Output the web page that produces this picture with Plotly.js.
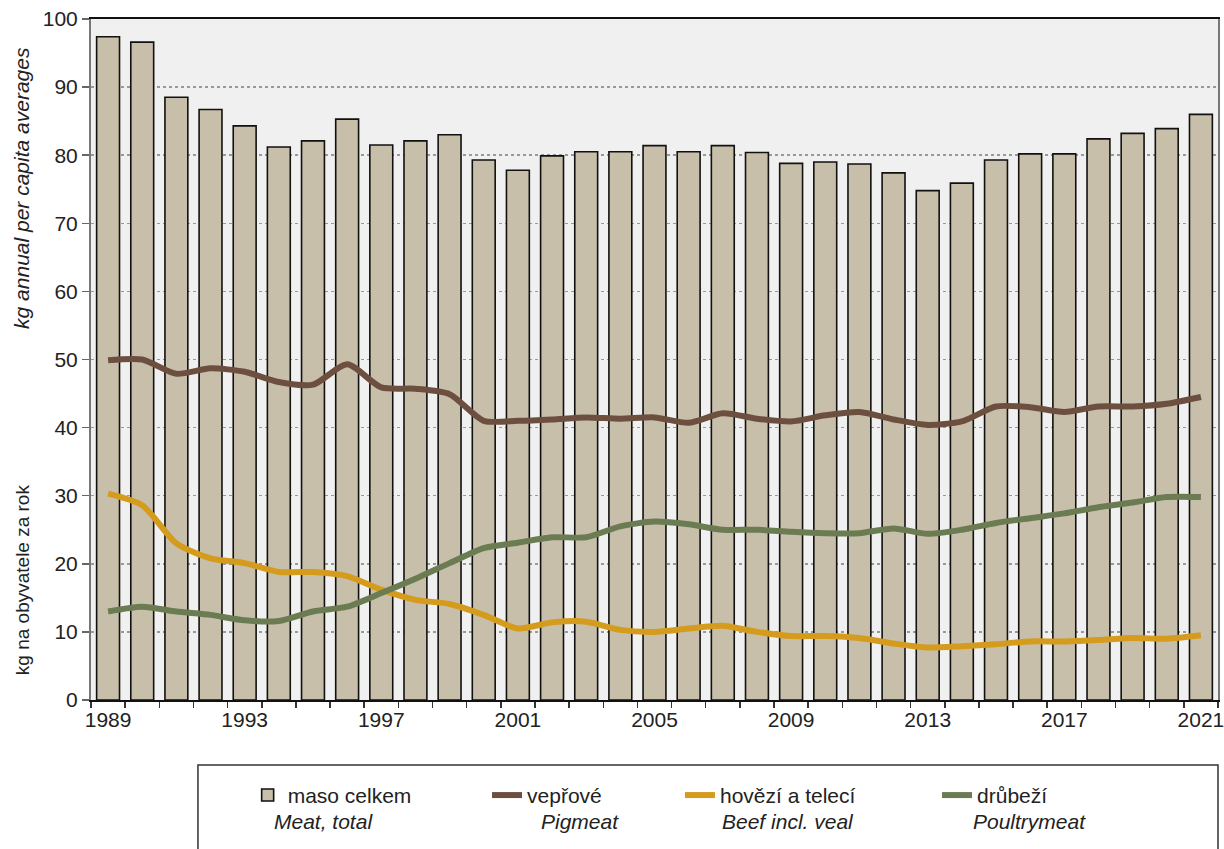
<!DOCTYPE html>
<html>
<head>
<meta charset="utf-8">
<script src="https://cdn.plot.ly/plotly-3.0.1.min.js"></script>
<style>html,body{margin:0;padding:0;background:#fff;}#chart{width:1224px;height:849px;}</style>
</head>
<body>
<div id="chart"></div>
<script>
const years = [1989,1990,1991,1992,1993,1994,1995,1996,1997,1998,1999,2000,2001,2002,2003,2004,2005,2006,2007,2008,2009,2010,2011,2012,2013,2014,2015,2016,2017,2018,2019,2020,2021];
const meatTotal = [97.4,96.6,88.5,86.7,84.3,81.2,82.1,85.3,81.5,82.1,83.0,79.3,77.8,79.9,80.5,80.5,81.4,80.5,81.4,80.4,78.8,79.0,78.7,77.4,74.8,75.9,79.3,80.2,80.2,82.4,83.2,83.9,86.0];
const pigmeat = [49.9,50.0,47.9,48.7,48.2,46.7,46.3,49.3,45.9,45.7,44.9,41.0,41.0,41.2,41.5,41.3,41.5,40.7,42.1,41.3,40.9,41.8,42.3,41.2,40.4,40.9,43.1,43.0,42.3,43.1,43.1,43.5,44.5];
const beef = [30.3,28.6,23.0,20.8,20.1,18.8,18.8,18.2,16.2,14.7,14.1,12.5,10.5,11.4,11.5,10.3,10.0,10.5,10.9,10.0,9.4,9.4,9.1,8.3,7.7,7.9,8.2,8.6,8.6,8.8,9.1,9.0,9.5];
const poultry = [13.0,13.7,13.0,12.5,11.7,11.6,13.0,13.7,15.7,17.8,20.1,22.3,23.1,23.9,23.9,25.5,26.2,25.8,25.0,25.0,24.7,24.5,24.5,25.2,24.4,25.0,26.0,26.7,27.4,28.3,29.0,29.8,29.8];
const labelYears = [1989,1993,1997,2001,2005,2009,2013,2017,2021];
const yTicks = [0,10,20,30,40,50,60,70,80,90,100];
const namesCz = ['maso celkem','vepřové','hovězí a telecí','drůbeží'];
const namesEn = ['Meat, total','Pigmeat','Beef incl. veal','Poultrymeat'];

const FONT = 'Liberation Sans, Arial, sans-serif';
const FS = 21;
const lineCommon = {type:'scatter', mode:'lines', x: years};
const traces = [
  {type:'bar', x: years, y: meatTotal, name: namesCz[0], width: 0.67, legend:'legend',
   marker:{color:'#c8bfab', line:{color:'#111', width:1.6}}},
  Object.assign({}, lineCommon, {y: pigmeat, name: namesCz[1], legend:'legend2', line:{color:'#6d4f40', width:6, shape:'spline', smoothing:0.7}}),
  Object.assign({}, lineCommon, {y: beef, name: namesCz[2], legend:'legend3', line:{color:'#d49b1d', width:6, shape:'spline', smoothing:0.7}}),
  Object.assign({}, lineCommon, {y: poultry, name: namesCz[3], legend:'legend4', line:{color:'#6b7c52', width:6, shape:'spline', smoothing:0.7}})
];

function leg(x){
  return {orientation:'h', x:x, xanchor:'left', y:-0.110, yanchor:'top',
    bgcolor:'rgba(0,0,0,0)', borderwidth:0, font:{family:FONT, size:FS, color:'#222'}};
}
const enX = [0.2067, 0.4339, 0.6185, 0.8323];

const layout = {
  width:1224, height:849,
  margin:{l:91, r:6, t:19, b:149},
  paper_bgcolor:'#ffffff', plot_bgcolor:'#f0f0f0',
  font:{family:FONT, size:FS, color:'#222'},
  showlegend:true,
  xaxis:{
    type:'linear', range:[1988.5, 2021.5], tickmode:'array', tickvals: labelYears,
    ticks:'', showgrid:false, zeroline:false, ticklabeloverflow:'allow',
    showline:true, linecolor:'#111', linewidth:2, mirror:true,
    tickfont:{family:FONT, size:FS, color:'#222'},
    minor:{ticks:'outside', tick0:1988.5, dtick:1, ticklen:6, tickwidth:1.5, tickcolor:'#333', showgrid:false}
  },
  yaxis:{
    range:[0,100], tickmode:'array', tickvals: yTicks,
    ticks:'outside', ticklen:7, tickwidth:1.5, tickcolor:'#666',
    showgrid:true, gridcolor:'#999', gridwidth:1.5, griddash:'dot',
    zeroline:false, showline:true, linecolor:'#777', linewidth:2, mirror:true,
    tickfont:{family:FONT, size:FS, color:'#222'}
  },
  legend: leg(0.139),
  legend2: leg(0.3514),
  legend3: leg(0.5226),
  legend4: leg(0.7507),
  shapes:[
    {type:'rect', xref:'paper', yref:'paper', x0:0.0949, x1:1.0, y0:-0.0954, y1:-0.26,
     line:{color:'#333', width:1.5}, fillcolor:'rgba(0,0,0,0)', layer:'below'}
  ],
  annotations: [
    {xref:'paper', yref:'paper', x:-0.0612, y:0.752, xanchor:'center', yanchor:'middle', text:'<i>kg annual per capita averages</i>', textangle:-90, showarrow:false, font:{family:FONT, size:FS, color:'#222'}},
    {xref:'paper', yref:'paper', x:-0.0612, y:0.176, xanchor:'center', yanchor:'middle', text:'kg na obyvatele za rok', textangle:-90, showarrow:false, font:{family:FONT, size:19, color:'#222'}}
  ].concat(namesEn.map((t,i)=>({xref:'paper', yref:'paper', x:enX[i], y:-0.179, xanchor:'center', yanchor:'middle', text:'<i>'+t+'</i>', showarrow:false, font:{family:FONT, size:FS, color:'#222'}})))
};

Plotly.newPlot('chart', traces, layout, {displayModeBar:false, staticPlot:true});
</script>
</body>
</html>
